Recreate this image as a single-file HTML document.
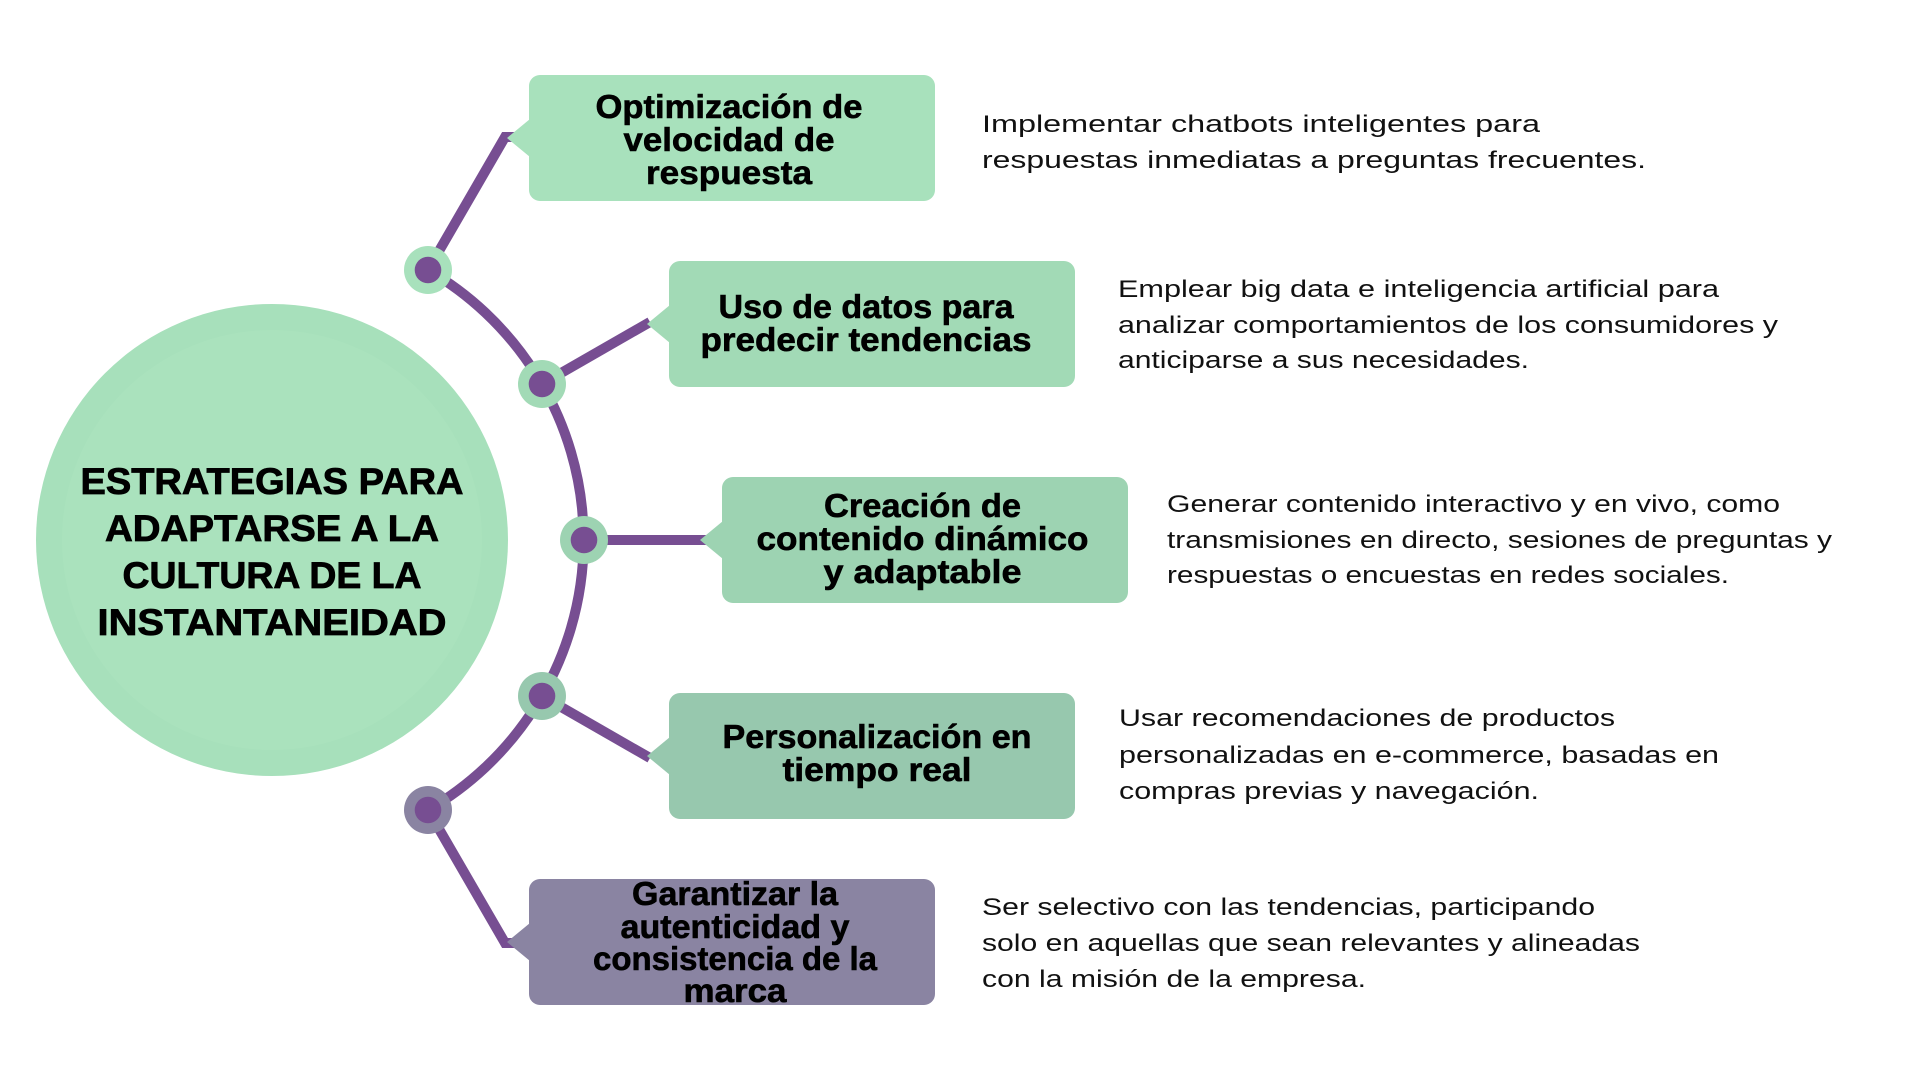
<!DOCTYPE html>
<html>
<head>
<meta charset="utf-8">
<style>
  html, body { margin: 0; padding: 0; background: #ffffff; }
  body { width: 1920px; height: 1080px; overflow: hidden; }
  svg { display: block; }
  .t { font-family: "Liberation Sans", Arial, sans-serif; font-weight: bold; fill: #000; stroke: #000; stroke-width: 0.6px; }
  .d { font-family: "Liberation Sans", Arial, sans-serif; font-weight: normal; fill: #111; font-size: 24px; }
  .b { font-size: 33px; }
  .h { font-size: 37px; stroke-width: 0.8px; }
</style>
</head>
<body>
<svg width="1920" height="1080" viewBox="0 0 1920 1080" xmlns="http://www.w3.org/2000/svg">
  <rect x="0" y="0" width="1920" height="1080" fill="#ffffff"/>

  <!-- Big circle -->
  <circle cx="272" cy="540" r="236" fill="#a7e0bb"/>
  <circle cx="272" cy="540" r="210" fill="#aae2bd"/>

  <!-- Connectors -->
  <g fill="none" stroke="#774e92" stroke-width="10" stroke-linejoin="miter" stroke-linecap="butt">
    <path d="M 428 270 A 312 312 0 0 1 428 810"/>
    <polyline points="428,270 505,137 518,137"/>
    <polyline points="542,384 650,322"/>
    <polyline points="584,540 706,540"/>
    <polyline points="542,696 650,758"/>
    <polyline points="428,810 505,943 518,943"/>
  </g>

  <!-- Boxes with pointers -->
  <g>
    <rect x="529" y="75" width="406" height="126" rx="11" fill="#a8e1bc"/>
    <polygon points="530,119 507,138 530,157" fill="#a8e1bc"/>

    <rect x="669" y="261" width="406" height="126" rx="11" fill="#a2dab6"/>
    <polygon points="670,305 647,324 670,343" fill="#a2dab6"/>

    <rect x="722" y="477" width="406" height="126" rx="11" fill="#9dd3b2"/>
    <polygon points="723,521 700,540 723,559" fill="#9dd3b2"/>

    <rect x="669" y="693" width="406" height="126" rx="11" fill="#97c8ae"/>
    <polygon points="670,737 647,756 670,775" fill="#97c8ae"/>

    <rect x="529" y="879" width="406" height="126" rx="11" fill="#8a84a2"/>
    <polygon points="530,923 507,942 530,961" fill="#8a84a2"/>
  </g>

  <!-- Nodes -->
  <g>
    <circle cx="428" cy="270" r="24" fill="#a8e1bc"/>
    <circle cx="428" cy="270" r="13.3" fill="#774e92"/>
    <circle cx="542" cy="384" r="24" fill="#a2dab6"/>
    <circle cx="542" cy="384" r="13.3" fill="#774e92"/>
    <circle cx="584" cy="540" r="24" fill="#9dd3b2"/>
    <circle cx="584" cy="540" r="13.3" fill="#774e92"/>
    <circle cx="542" cy="696" r="24" fill="#97c8ae"/>
    <circle cx="542" cy="696" r="13.3" fill="#774e92"/>
    <circle cx="428" cy="810" r="24" fill="#8a84a2"/>
    <circle cx="428" cy="810" r="13.3" fill="#774e92"/>
  </g>

  <!-- Title -->
  <text class="t h" x="80.5" y="494" textLength="383" lengthAdjust="spacingAndGlyphs">ESTRATEGIAS PARA</text>
  <text class="t h" x="105" y="541" textLength="334" lengthAdjust="spacingAndGlyphs">ADAPTARSE A LA</text>
  <text class="t h" x="122.5" y="588" textLength="299" lengthAdjust="spacingAndGlyphs">CULTURA DE LA</text>
  <text class="t h" x="97.5" y="635" textLength="349" lengthAdjust="spacingAndGlyphs">INSTANTANEIDAD</text>

  <!-- Box 1 text -->
  <text class="t b" x="595.5" y="118" textLength="267" lengthAdjust="spacingAndGlyphs">Optimización de</text>
  <text class="t b" x="623.5" y="151" textLength="211" lengthAdjust="spacingAndGlyphs">velocidad de</text>
  <text class="t b" x="646" y="184" textLength="166" lengthAdjust="spacingAndGlyphs">respuesta</text>

  <!-- Box 2 text -->
  <text class="t b" x="718.5" y="318" textLength="295" lengthAdjust="spacingAndGlyphs">Uso de datos para</text>
  <text class="t b" x="700.5" y="351" textLength="331" lengthAdjust="spacingAndGlyphs">predecir tendencias</text>

  <!-- Box 3 text -->
  <text class="t b" x="824" y="517" textLength="197" lengthAdjust="spacingAndGlyphs">Creación de</text>
  <text class="t b" x="756.5" y="550" textLength="332" lengthAdjust="spacingAndGlyphs">contenido dinámico</text>
  <text class="t b" x="823.5" y="583" textLength="198" lengthAdjust="spacingAndGlyphs">y adaptable</text>

  <!-- Box 4 text -->
  <text class="t b" x="722.5" y="748" textLength="309" lengthAdjust="spacingAndGlyphs">Personalización en</text>
  <text class="t b" x="782.5" y="781" textLength="189" lengthAdjust="spacingAndGlyphs">tiempo real</text>

  <!-- Box 5 text -->
  <text class="t b" x="632" y="905" textLength="206" lengthAdjust="spacingAndGlyphs">Garantizar la</text>
  <text class="t b" x="620.5" y="938" textLength="229" lengthAdjust="spacingAndGlyphs">autenticidad y</text>
  <text class="t b" x="593" y="970" textLength="284" lengthAdjust="spacingAndGlyphs">consistencia de la</text>
  <text class="t b" x="683.5" y="1002" textLength="103" lengthAdjust="spacingAndGlyphs">marca</text>

  <!-- Descriptions -->
  <text class="d" x="982" y="132" textLength="558" lengthAdjust="spacingAndGlyphs">Implementar chatbots inteligentes para</text>
  <text class="d" x="982" y="168" textLength="664" lengthAdjust="spacingAndGlyphs">respuestas inmediatas a preguntas frecuentes.</text>

  <text class="d" x="1118" y="297" textLength="601" lengthAdjust="spacingAndGlyphs">Emplear big data e inteligencia artificial para</text>
  <text class="d" x="1118" y="333" textLength="660" lengthAdjust="spacingAndGlyphs">analizar comportamientos de los consumidores y</text>
  <text class="d" x="1118" y="368" textLength="411" lengthAdjust="spacingAndGlyphs">anticiparse a sus necesidades.</text>

  <text class="d" x="1167" y="512" textLength="613" lengthAdjust="spacingAndGlyphs">Generar contenido interactivo y en vivo, como</text>
  <text class="d" x="1167" y="548" textLength="665" lengthAdjust="spacingAndGlyphs">transmisiones en directo, sesiones de preguntas y</text>
  <text class="d" x="1167" y="583" textLength="562" lengthAdjust="spacingAndGlyphs">respuestas o encuestas en redes sociales.</text>

  <text class="d" x="1119" y="726" textLength="496" lengthAdjust="spacingAndGlyphs">Usar recomendaciones de productos</text>
  <text class="d" x="1119" y="763" textLength="600" lengthAdjust="spacingAndGlyphs">personalizadas en e-commerce, basadas en</text>
  <text class="d" x="1119" y="799" textLength="420" lengthAdjust="spacingAndGlyphs">compras previas y navegación.</text>

  <text class="d" x="982" y="915" textLength="613" lengthAdjust="spacingAndGlyphs">Ser selectivo con las tendencias, participando</text>
  <text class="d" x="982" y="951" textLength="658" lengthAdjust="spacingAndGlyphs">solo en aquellas que sean relevantes y alineadas</text>
  <text class="d" x="982" y="987" textLength="384" lengthAdjust="spacingAndGlyphs">con la misión de la empresa.</text>
</svg>
</body>
</html>
